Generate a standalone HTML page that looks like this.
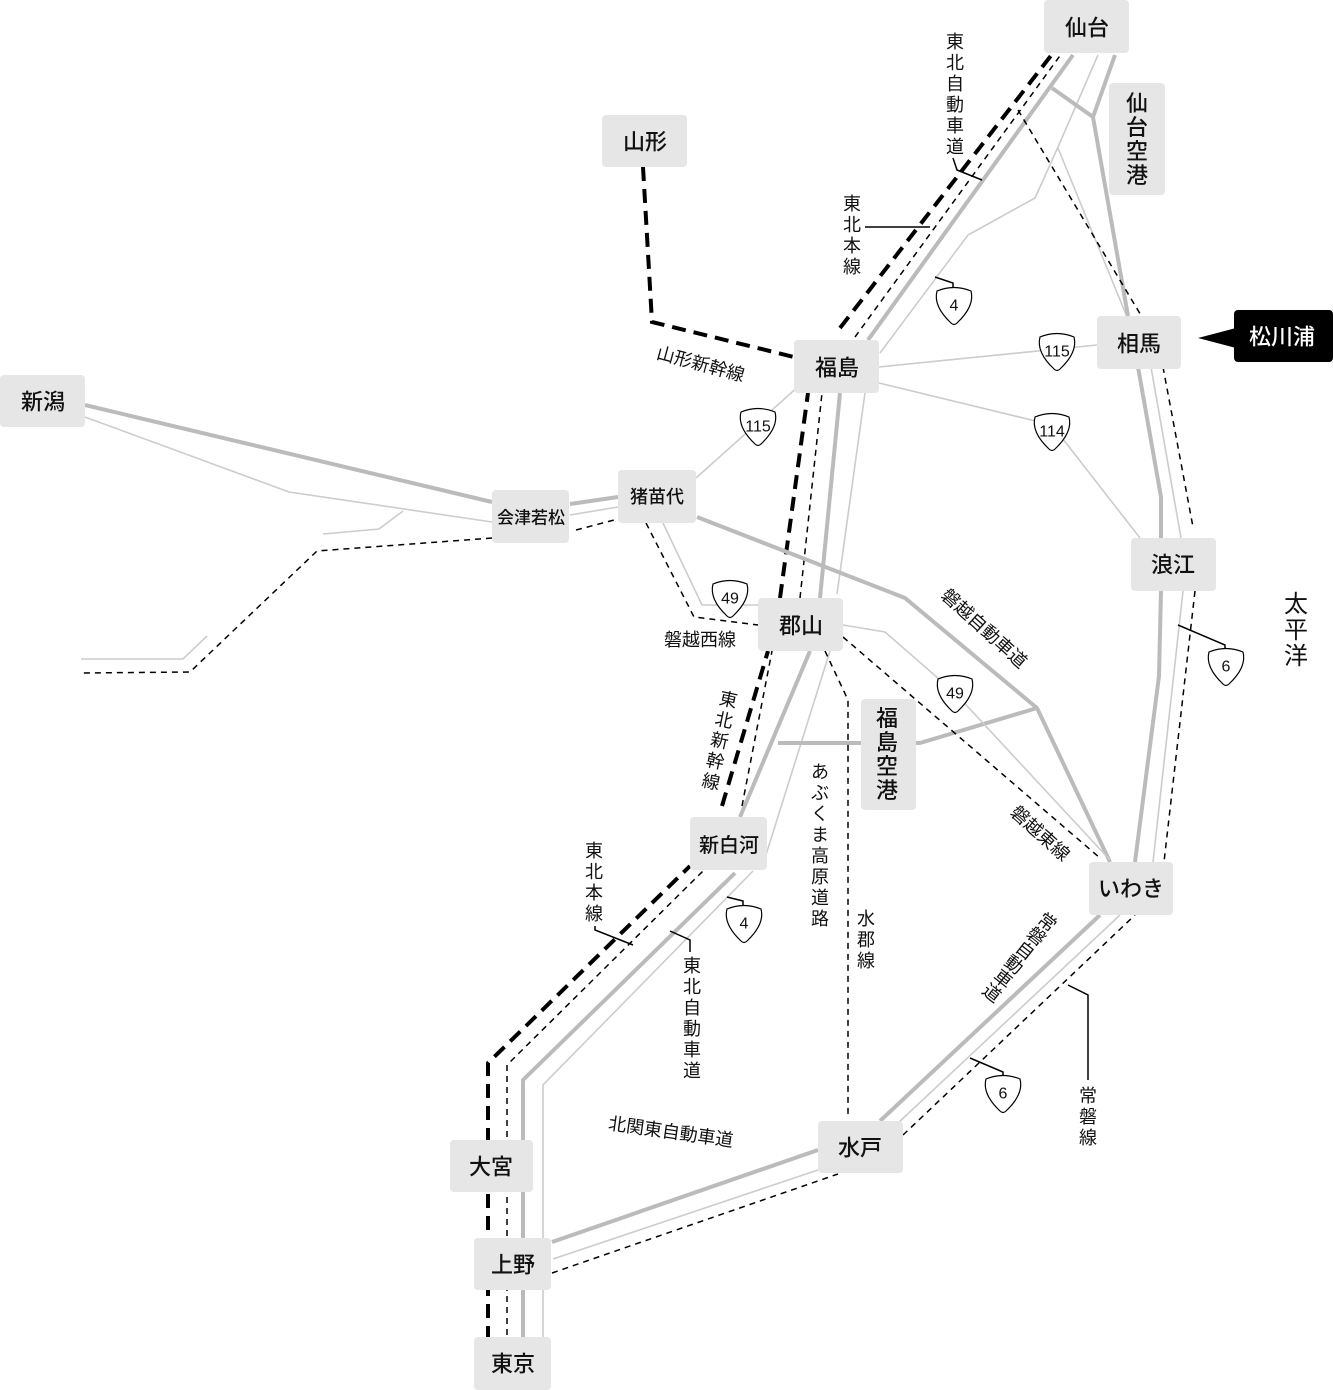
<!DOCTYPE html>
<html><head><meta charset="utf-8"><style>
html,body{margin:0;padding:0;background:#fff}
svg{display:block}
text{font-family:"Liberation Sans","Noto Sans CJK JP",sans-serif;fill:#111}
.st{font-size:22px;text-anchor:middle;dominant-baseline:central;font-weight:500}
.lb{font-size:18px;text-anchor:middle}
.tg{fill:none;stroke:#bbb;stroke-width:4;stroke-linejoin:round}
.tn{fill:none;stroke:#ccc;stroke-width:1.6}
.kd{fill:none;stroke:#000;stroke-width:4;stroke-dasharray:14 8}
.td{fill:none;stroke:#000;stroke-width:1.5;stroke-dasharray:6 5}
.ld{fill:none;stroke:#000;stroke-width:1.5}
.bx{fill:#e6e6e6}
.sh{fill:#fff;stroke:#000;stroke-width:1.2}
.sn{font-size:16px;text-anchor:middle;dominant-baseline:central}
</style></head><body>
<svg width="1333" height="1390" viewBox="0 0 1333 1390" xmlns="http://www.w3.org/2000/svg">
<polyline class="tn" points="543,1390 543,1085 753,871"/>
<polyline class="tn" points="765,858 830,651"/>
<polyline class="tn" points="837,594 865,393"/>
<polyline class="tn" points="880,353 968,235 1035,198 1058,147 1098,55"/>
<polyline class="tn" points="1058,148 1127,317"/>
<polyline class="tg" points="523,1390 523,1080 735,873"/>
<polyline class="tg" points="740,817 810,651"/>
<polyline class="tg" points="820,598 840,393"/>
<polyline class="tg" points="868,340 1073,55"/>
<polyline class="tg" points="1052,88 1093,117 1115,55"/>
<polyline class="tg" points="1093,117 1128,316"/>
<polyline class="td" points="507,1390 507,1065 703,871"/>
<polyline class="td" points="742,806 772,651"/>
<polyline class="td" points="800,598 822,393"/>
<polyline class="td" points="855,337 1062,53"/>
<polyline class="td" points="1018,110 1142,317"/>
<polyline class="kd" points="488,1340 488,1063 690,866"/>
<polyline class="kd" points="722,806 768,651"/>
<polyline class="kd" points="780,598 808,393"/>
<polyline class="kd" points="840,328 1053,53"/>
<polyline class="kd" points="643,167 652,322 794,357"/>
<polyline class="tg" points="1138,367 1161,497 1161,538"/>
<polyline class="tg" points="1161,591 1159,676 1135,862"/>
<polyline class="tn" points="1151,367 1181,538"/>
<polyline class="tn" points="1183,591 1153,862"/>
<polyline class="td" points="1163,367 1193,527"/>
<polyline class="td" points="1195,591 1164,862"/>
<polyline class="tg" points="880,1121 1100,915"/>
<polyline class="tn" points="897,1124 1120,915"/>
<polyline class="td" points="903,1135 1135,915"/>
<polyline class="tg" points="552,1242 818,1150"/>
<polyline class="tn" points="553,1259 818,1170"/>
<polyline class="td" points="552,1273 838,1174"/>
<polyline class="tg" points="85,405 492,502"/>
<polyline class="tn" points="85,417 289,492 492,522"/>
<polyline class="tn" points="403,511 379,529 323,534"/>
<polyline class="td" points="492,538 317,551 190,672 81,673"/>
<polyline class="tn" points="207,636 183,659 81,659"/>
<polyline class="tg" points="570,504 618,497"/>
<polyline class="tn" points="570,515 618,507"/>
<polyline class="td" points="576,530 618,519"/>
<polyline class="tg" points="697,517 905,598 1037,708 1110,862"/>
<polyline class="tg" points="778,743 920,743 1037,708"/>
<polyline class="td" points="646,523 694,617 758,625"/>
<polyline class="tn" points="663,523 702,605 758,605"/>
<polyline class="tn" points="696,478 800,385"/>
<polyline class="tn" points="879,367 1097,345"/>
<polyline class="tn" points="879,383 1052,425 1140,538"/>
<polyline class="td" points="843,637 1100,858"/>
<polyline class="tn" points="843,625 885,632 955,693 1110,860"/>
<polyline class="td" points="825,651 848,700 848,1114"/>
<polyline class="ld" points="953,158 957,170 982,180"/>
<polyline class="ld" points="865,227 930,227"/>
<polyline class="ld" points="935,277 953,283 953,288"/>
<polyline class="ld" points="595,926 595,930 633,945"/>
<polyline class="ld" points="670,931 690,940 690,952"/>
<polyline class="ld" points="727,897 743,901 743,905"/>
<polyline class="ld" points="1178,625 1225,645 1225,650"/>
<polyline class="ld" points="970,1058 1003,1072 1003,1075"/>
<polyline class="ld" points="1068,985 1088,995 1088,1080"/>
<g transform="translate(954,306)"><path class="sh" d="M-17,-15 Q0,-22 17,-15 Q21,0 3,17 Q0,20 -3,17 Q-21,0 -17,-15Z"/><text class="sn" x="0" y="0">4</text></g>
<g transform="translate(1057,352)"><path class="sh" d="M-17,-15 Q0,-22 17,-15 Q21,0 3,17 Q0,20 -3,17 Q-21,0 -17,-15Z"/><text class="sn" x="0" y="0">115</text></g>
<g transform="translate(1052,432)"><path class="sh" d="M-17,-15 Q0,-22 17,-15 Q21,0 3,17 Q0,20 -3,17 Q-21,0 -17,-15Z"/><text class="sn" x="0" y="0">114</text></g>
<g transform="translate(758,427)"><path class="sh" d="M-17,-15 Q0,-22 17,-15 Q21,0 3,17 Q0,20 -3,17 Q-21,0 -17,-15Z"/><text class="sn" x="0" y="0">115</text></g>
<g transform="translate(730,599)"><path class="sh" d="M-17,-15 Q0,-22 17,-15 Q21,0 3,17 Q0,20 -3,17 Q-21,0 -17,-15Z"/><text class="sn" x="0" y="0">49</text></g>
<g transform="translate(955,694)"><path class="sh" d="M-17,-15 Q0,-22 17,-15 Q21,0 3,17 Q0,20 -3,17 Q-21,0 -17,-15Z"/><text class="sn" x="0" y="0">49</text></g>
<g transform="translate(1226,667)"><path class="sh" d="M-17,-15 Q0,-22 17,-15 Q21,0 3,17 Q0,20 -3,17 Q-21,0 -17,-15Z"/><text class="sn" x="0" y="0">6</text></g>
<g transform="translate(1003,1094)"><path class="sh" d="M-17,-15 Q0,-22 17,-15 Q21,0 3,17 Q0,20 -3,17 Q-21,0 -17,-15Z"/><text class="sn" x="0" y="0">6</text></g>
<g transform="translate(744,924)"><path class="sh" d="M-17,-15 Q0,-22 17,-15 Q21,0 3,17 Q0,20 -3,17 Q-21,0 -17,-15Z"/><text class="sn" x="0" y="0">4</text></g>
<rect class="bx" x="1044" y="0" width="85" height="53" rx="4"/><text class="st" x="1087" y="28">仙台</text>
<rect class="bx" x="1109" y="83" width="56" height="112" rx="4"/>
<text class="st"><tspan x="1137" y="103">仙</tspan><tspan x="1137" y="127">台</tspan><tspan x="1137" y="151">空</tspan><tspan x="1137" y="175">港</tspan></text>
<rect class="bx" x="602" y="115" width="85" height="52" rx="4"/><text class="st" x="645" y="142">山形</text>
<rect class="bx" x="794" y="340" width="85" height="53" rx="4"/><text class="st" x="837" y="368">福島</text>
<rect class="bx" x="1097" y="316" width="84" height="53" rx="4"/><text class="st" x="1139" y="344">相馬</text>
<polygon points="1198,338 1236,328 1236,348" fill="#000"/>
<rect x="1234" y="310" width="99" height="52" rx="4" fill="#000"/><text class="st" x="1282" y="337" style="fill:#fff">松川浦</text>
<rect class="bx" x="0" y="375" width="85" height="52" rx="4"/><text class="st" x="43" y="402">新潟</text>
<rect class="bx" x="492" y="490" width="77" height="53" rx="4"/><text class="st" x="531" y="518" style="font-size:17px">会津若松</text>
<rect class="bx" x="618" y="470" width="78" height="53" rx="4"/><text class="st" x="657" y="497" style="font-size:18px">猪苗代</text>
<rect class="bx" x="1131" y="538" width="85" height="53" rx="4"/><text class="st" x="1173" y="565">浪江</text>
<rect class="bx" x="758" y="598" width="85" height="53" rx="4"/><text class="st" x="801" y="626">郡山</text>
<rect class="bx" x="861" y="699" width="55" height="111" rx="4"/>
<text class="st"><tspan x="887" y="718">福</tspan><tspan x="887" y="742">島</tspan><tspan x="887" y="766">空</tspan><tspan x="887" y="790">港</tspan></text>
<rect class="bx" x="690" y="817" width="77" height="53" rx="4"/><text class="st" x="729" y="846" style="font-size:20px">新白河</text>
<rect class="bx" x="1089" y="862" width="84" height="53" rx="4"/><text class="st" x="1131" y="889">いわき</text>
<rect class="bx" x="818" y="1121" width="85" height="52" rx="4"/><text class="st" x="860" y="1148">水戸</text>
<rect class="bx" x="450" y="1140" width="83" height="52" rx="4"/><text class="st" x="491" y="1167">大宮</text>
<rect class="bx" x="474" y="1238" width="77" height="52" rx="4"/><text class="st" x="513" y="1265">上野</text>
<rect class="bx" x="474" y="1337" width="77" height="53" rx="4"/><text class="st" x="513" y="1364">東京</text>
<text class="lb"><tspan x="955" y="48">東</tspan><tspan x="955" y="69">北</tspan><tspan x="955" y="90">自</tspan><tspan x="955" y="111">動</tspan><tspan x="955" y="132">車</tspan><tspan x="955" y="153">道</tspan></text>
<text class="lb"><tspan x="852" y="210">東</tspan><tspan x="852" y="231">北</tspan><tspan x="852" y="252">本</tspan><tspan x="852" y="273">線</tspan></text>
<text class="lb" transform="translate(699,370) rotate(15)" x="0" y="0">山形新幹線</text>
<text class="lb" x="700" y="646">磐越西線</text>
<g transform="translate(730,692) rotate(12)"><text class="lb"><tspan x="0" y="14">東</tspan><tspan x="0" y="35">北</tspan><tspan x="0" y="56">新</tspan><tspan x="0" y="77">幹</tspan><tspan x="0" y="98">線</tspan></text></g>
<text class="lb" transform="translate(980,633) rotate(42)" x="0" y="0">磐越自動車道</text>
<text class="lb" transform="translate(1036,838) rotate(42)" x="0" y="0">磐越東線</text>
<text style="font-size:24px;text-anchor:middle"><tspan x="1296" y="612">太</tspan><tspan x="1296" y="638">平</tspan><tspan x="1296" y="664">洋</tspan></text>
<text class="lb"><tspan x="820" y="778">あ</tspan><tspan x="820" y="799">ぶ</tspan><tspan x="820" y="820">く</tspan><tspan x="820" y="841">ま</tspan><tspan x="820" y="862">高</tspan><tspan x="820" y="883">原</tspan><tspan x="820" y="904">道</tspan><tspan x="820" y="925">路</tspan></text>
<text class="lb"><tspan x="866" y="925">水</tspan><tspan x="866" y="946">郡</tspan><tspan x="866" y="967">線</tspan></text>
<text class="lb"><tspan x="594" y="857">東</tspan><tspan x="594" y="878">北</tspan><tspan x="594" y="899">本</tspan><tspan x="594" y="920">線</tspan></text>
<text class="lb"><tspan x="692" y="972">東</tspan><tspan x="692" y="993">北</tspan><tspan x="692" y="1014">自</tspan><tspan x="692" y="1035">動</tspan><tspan x="692" y="1056">車</tspan><tspan x="692" y="1077">道</tspan></text>
<g transform="translate(1052,916) rotate(38)"><text class="lb"><tspan x="0" y="14">常</tspan><tspan x="0" y="32">磐</tspan><tspan x="0" y="50">自</tspan><tspan x="0" y="68">動</tspan><tspan x="0" y="86">車</tspan><tspan x="0" y="104">道</tspan></text></g>
<text class="lb"><tspan x="1088" y="1102">常</tspan><tspan x="1088" y="1123">磐</tspan><tspan x="1088" y="1144">線</tspan></text>
<text class="lb" transform="translate(670,1138) rotate(8)" x="0" y="0">北関東自動車道</text>
</svg>
</body></html>
